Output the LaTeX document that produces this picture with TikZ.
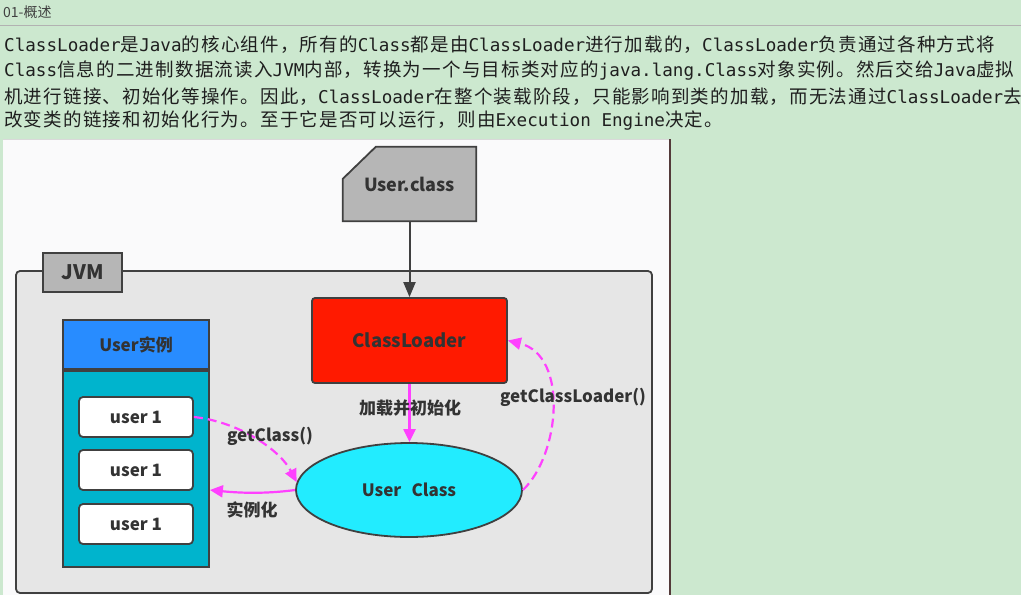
\documentclass[tikz,border=0pt]{standalone}
\usepackage{fontspec}
\setmainfont{Noto Sans CJK SC}
\setmonofont{DejaVu Sans Mono}
\newfontfamily\cjktext[LetterSpace=6.5]{Noto Sans CJK SC}
\newfontfamily\diagfont{Noto Sans CJK SC}
\usetikzlibrary{arrows.meta,positioning,calc,shapes.geometric}

\definecolor{bggreen}{RGB}{204,232,207}
\definecolor{panel}{RGB}{250,250,251}
\definecolor{jvmgray}{RGB}{230,230,230}
\definecolor{tabgray}{RGB}{182,182,182}
\definecolor{darkedge}{RGB}{64,64,64}
\definecolor{loaderred}{RGB}{255,26,0}
\definecolor{headblue}{RGB}{40,140,255}
\definecolor{bodyteal}{RGB}{0,180,205}
\definecolor{classcyan}{RGB}{34,236,255}
\definecolor{linkpink}{RGB}{255,64,255}
\definecolor{txt}{RGB}{51,51,51}

\newcommand\monotxt[1]{{\ttfamily\fontsize{17.6}{22}\selectfont #1}}

\begin{document}
\begin{tikzpicture}[x=1pt,y=-1pt,
    textline/.style={anchor=west,inner sep=0pt,text=black!88,font=\cjktext\fontsize{18.5}{22}\selectfont},
    box/.style={draw=darkedge,line width=1.8pt,text=txt,font=\diagfont\bfseries\fontsize{17}{20}\selectfont},
    userbox/.style={box,fill=white,rounded corners=4pt,minimum width=114pt,minimum height=40pt},
    txtstyle/.style={text=txt,inner sep=1pt,font=\diagfont\bfseries\fontsize{17}{20}\selectfont},
    pinkline/.style={draw=linkpink,line width=2.2pt,-{Triangle[length=13pt,width=12pt]},linkpink},
    pinkdash/.style={pinkline,dash pattern=on 9pt off 5pt}]

  % page
  \fill[bggreen] (0,0) rectangle (1021,595);
  \useasboundingbox (0,0) rectangle (1021,595);
  \node[anchor=west,inner sep=0pt,text=black!75,font=\fontsize{14}{16}\selectfont] (title) at (3,12) {01-概述};
  \draw[black!30,line width=1pt] (0,25) -- (1021,25);

  \node[textline] (line1) at (4,45) {\monotxt{ClassLoader}是\monotxt{Java}的核心组件，所有的\monotxt{Class}都是由\monotxt{ClassLoader}进行加载的，\monotxt{ClassLoader}负责通过各种方式将};
  \node[textline] (line2) at (4,71) {\monotxt{Class}信息的二进制数据流读入\monotxt{JVM}内部，转换为一个与目标类对应的\monotxt{java.lang.Class}对象实例。然后交给\monotxt{Java}虚拟};
  \node[textline] (line3) at (4,97) {机进行链接、初始化等操作。因此，\monotxt{ClassLoader}在整个装载阶段，只能影响到类的加载，而无法通过\monotxt{ClassLoader}去};
  \node[textline] (line4) at (4,121) {改变类的链接和初始化行为。至于它是否可以运行，则由\monotxt{Execution Engine}决定。};

  % diagram panel
  \fill[panel] (3,139) rectangle (670,595);
  \draw[black!15] (3,139) -- (670,139);
  \draw[darkedge!90!red,line width=1.5pt] (670,139) -- (670,595);

  % JVM
  \node[box,fill=jvmgray,rounded corners=4pt,minimum width=636pt,minimum height=322pt] (jvm) at (334,432) {};
  \node[box,fill=tabgray,minimum width=79pt,minimum height=39pt,font=\diagfont\bfseries\fontsize{20}{24}\selectfont] (jvmtab) at (82.5,272.5) {JVM};

  % class file
  \node[minimum width=133pt,minimum height=74pt] (cls) at (409.5,184) {};
  \draw[box,fill=tabgray] ($(cls.north west)+(0,32)$) -- ($(cls.north west)+(33,0)$) -- (cls.north east) -- (cls.south east) -- (cls.south west) -- cycle;
  \node[txtstyle,font=\diagfont\bfseries\fontsize{18}{22}\selectfont] (clsname) at (cls) {User.class};

  \node[box,fill=loaderred,rounded corners=3pt,minimum width=195pt,minimum height=85pt,font=\diagfont\bfseries\fontsize{18.5}{22}\selectfont] (loader) at (409.5,340.5) {ClassLoader};
  \node[box,ellipse,fill=classcyan,minimum width=226pt,minimum height=94pt] (ucls) at (409,490) {User\hspace{0.6em}Class};

  % instances
  \node[box,fill=headblue,minimum width=146pt,minimum height=49pt] (insthead) at (136,344.5) {User实例};
  \node[box,fill=bodyteal,minimum width=146pt,minimum height=196pt,below=0pt of insthead] (instbody) {};
  \node[userbox] (u1) at (136,417) {user 1};
  \node[userbox] (u2) at (136,470) {user 1};
  \node[userbox] (u3) at (136,524) {user 1};

  % links
  \draw[darkedge,line width=2pt,-{Triangle[length=15pt,width=12pt]}] (cls.south) -- (loader.north);
  \draw[pinkline] (loader.south) -- (loader.south |- ucls.north);
  \node[txtstyle] (loadlbl) at (410,408) {加载并初始化};
  \draw[pinkdash] (u1.east) .. controls +(47,5) and +(-16,-31) .. (ucls.176);
  \node[txtstyle] (getcls) at (270,436) {getClass()};
  \draw[pinkline] (ucls.west) .. controls +(-30,4) and +(30,3) .. (instbody.east |- ucls.west);
  \node[txtstyle] (newlbl) at (252,510) {实例化};
  \draw[pinkdash] (ucls.east) .. controls +(37,-35) and +(61,15) .. (loader.east);
  \node[txtstyle] (getldr) at (573,397) {getClassLoader()};
\end{tikzpicture}
\end{document}
